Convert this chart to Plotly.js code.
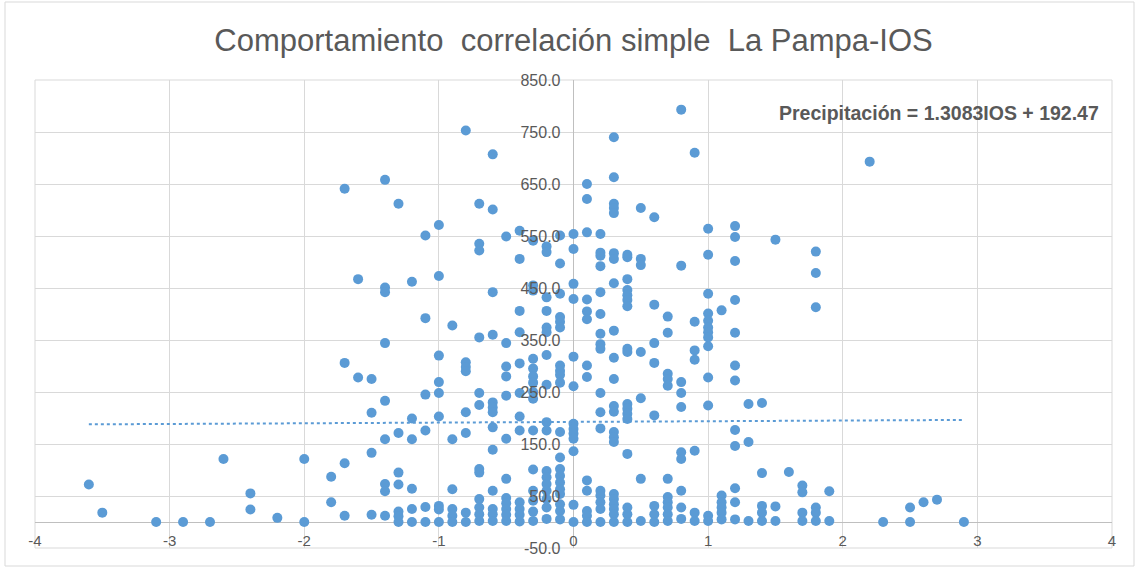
<!DOCTYPE html>
<html>
<head>
<meta charset="utf-8">
<script src="https://cdn.plot.ly/plotly-3.0.1.min.js"></script>
<style>
  html, body { margin: 0; padding: 0; background: #ffffff; }
  #chart { width: 1137px; height: 569px; }
</style>
</head>
<body>
<div id="chart"></div>
<script>
// ---- Data ----
const chartTitle = "Comportamiento  correlación simple  La Pampa-IOS";
const equationText = "Precipitación = 1.3083IOS + 192.47";
const trendSlope = 1.3083;
const trendIntercept = 192.47;

// IOS value of each column of points
const iosColumns = [
  -3.6, -3.5, -3.1, -2.9, -2.7, -2.6, -2.4, -2.2, -2.0, -1.8,
  -1.7, -1.6, -1.5, -1.4, -1.3, -1.2, -1.1, -1.0, -0.9, -0.8,
  -0.7, -0.6, -0.5, -0.4, -0.3, -0.2, -0.1, 0.0, 0.1, 0.2,
  0.3, 0.4, 0.5, 0.6, 0.7, 0.8, 0.9, 1.0, 1.1, 1.2,
  1.3, 1.4, 1.5, 1.6, 1.7, 1.8, 1.9, 2.2, 2.3, 2.5,
  2.6, 2.7, 2.9
];
// Precipitation values for the points in each column
const precipColumns = [
  [72], [18], [0], [0], [0], [121], [55, 24], [8], [121, 0], [87, 38],
  [641, 306, 113, 12],
  [467, 278],
  [275, 210, 133, 14],
  [658, 451, 442, 344, 233, 159, 73, 59, 12],
  [612, 171, 95, 72, 20, 11, 0],
  [462, 199, 159, 64, 25, 0],
  [551, 392, 245, 176, 29, 0],
  [571, 473, 320, 269, 248, 203, 31, 24, 0],
  [378, 159, 63, 25, 12, 0],
  [753, 307, 298, 290, 211, 171, 18, 0],
  [612, 535, 522, 355, 248, 225, 102, 95, 44, 28, 15, 2],
  [707, 601, 442, 360, 230, 220, 211, 182, 139, 60, 25, 15, 2],
  [549, 344, 299, 280, 243, 160, 83, 46, 36, 25, 14, 2],
  [560, 506, 406, 365, 305, 248, 203, 176, 38, 25, 14, 1],
  [541, 455, 445, 314, 295, 280, 268, 250, 237, 176, 101, 60, 41, 20, 2],
  [530, 519, 432, 406, 374, 365, 321, 264, 192, 176, 98, 86, 73, 60, 44, 28, 6],
  [551, 497, 439, 394, 385, 374, 301, 291, 283, 268, 173, 124, 102, 89, 76, 63, 54, 34, 21, 5],
  [554, 525, 458, 429, 318, 261, 189, 179, 170, 160, 136, 33, 0],
  [650, 621, 557, 428, 405, 390, 301, 279, 80, 60, 21, 12, 0],
  [554, 518, 512, 492, 442, 400, 362, 342, 333, 248, 211, 180, 60, 51, 38, 25, 0],
  [740, 663, 612, 604, 594, 517, 506, 459, 368, 316, 275, 223, 212, 173, 163, 154, 54, 44, 34, 25, 15, 0],
  [514, 509, 467, 446, 436, 427, 415, 333, 327, 227, 218, 208, 198, 131, 28, 15, 0],
  [604, 506, 494, 327, 238, 83, 2],
  [586, 418, 344, 306, 205, 31, 15, 0],
  [395, 364, 285, 275, 262, 83, 48, 38, 28, 15, 2],
  [793, 493, 269, 248, 221, 134, 121, 60, 28, 6],
  [710, 385, 330, 312, 137, 18, 2],
  [564, 514, 439, 401, 387, 374, 365, 355, 338, 278, 224, 12, 2],
  [407, 51, 38, 28, 18, 5],
  [569, 548, 502, 427, 364, 301, 272, 177, 146, 65, 38, 5],
  [227, 154, 2],
  [229, 94, 31, 18, 2],
  [543, 30, 2],
  [96],
  [70, 57, 18, 2],
  [520, 479, 413, 28, 18, 2],
  [59, 2],
  [693], [0], [28, 0], [38], [43], [0]
];

const xTickValues = [-4, -3, -2, -1, 0, 1, 2, 3, 4];
const yTickValues = [-50, 50, 150, 250, 350, 450, 550, 650, 750, 850];

// ---- Build traces ----
const ios = [];
const precip = [];
iosColumns.forEach((xv, i) => {
  precipColumns[i].forEach(yv => { ios.push(xv); precip.push(yv); });
});

const xMin = Math.min(...ios), xMax = Math.max(...ios);
const trendX = [xMin, xMax];
const trendY = trendX.map(v => trendSlope * v + trendIntercept);

const blue = '#5B9BD5';
const gray = '#595959';
const fontFam = '"Liberation Sans", Arial, sans-serif';

const traces = [
  {
    type: 'scatter', mode: 'markers', x: ios, y: precip,
    marker: { color: blue, size: 10, line: { width: 0 } },
    hoverinfo: 'x+y', showlegend: false
  },
  {
    type: 'scatter', mode: 'lines', x: trendX, y: trendY,
    line: { color: blue, width: 2, dash: 'dot' },
    hoverinfo: 'skip', showlegend: false
  }
];

const layout = {
  width: 1137, height: 569,
  margin: { l: 35, r: 25, t: 80, b: 21, pad: 0 },
  paper_bgcolor: '#ffffff', plot_bgcolor: '#ffffff',
  font: { family: fontFam, color: gray },
  showlegend: false,
  title: {
    text: chartTitle,
    font: { family: fontFam, size: 31, color: gray },
    x: 0.5, xref: 'paper', xanchor: 'center',
    y: 1 - 40 / 569, yref: 'container', yanchor: 'middle'
  },
  xaxis: {
    range: [-4, 4],
    tickmode: 'array', tickvals: xTickValues, ticktext: xTickValues.map(v => String(v)),
    showgrid: true, gridcolor: '#D9D9D9', gridwidth: 1,
    zeroline: true, zerolinecolor: '#BFBFBF', zerolinewidth: 1,
    showline: false, ticks: '',
    anchor: 'free', position: 50 / 900,
    ticklabelstandoff: 8,
    tickfont: { family: fontFam, size: 15, color: gray },
    fixedrange: true
  },
  yaxis: {
    range: [-50, 850],
    tickmode: 'array', tickvals: yTickValues, ticktext: yTickValues.map(v => v.toFixed(1)),
    showgrid: true, gridcolor: '#D9D9D9', gridwidth: 1,
    zeroline: true, zerolinecolor: '#BFBFBF', zerolinewidth: 1,
    showline: false, ticks: '',
    anchor: 'free', position: 0.5,
    ticklabelstandoff: 13,
    tickfont: { family: fontFam, size: 16, color: gray },
    fixedrange: true
  },
  annotations: [
    {
      text: '<b>' + equationText + '</b>',
      xref: 'paper', yref: 'paper', x: (939 - 35) / 1077, y: (548 - 113) / 468,
      xanchor: 'center', yanchor: 'middle', showarrow: false,
      font: { family: fontFam, size: 19.5, color: gray }
    }
  ],
  shapes: [
    {
      type: 'rect', xref: 'paper', yref: 'paper', layer: 'below',
      x0: 0, x1: 1, y0: 0, y1: 1,
      line: { color: '#D9D9D9', width: 1 }, fillcolor: 'rgba(0,0,0,0)'
    },
    {
      type: 'rect', xref: 'paper', yref: 'paper', layer: 'below',
      x0: (5 - 35) / 1077, x1: (1134 - 35) / 1077,
      y0: (548 - 566) / 468, y1: (548 - 2) / 468,
      line: { color: '#D9D9D9', width: 1 }, fillcolor: 'rgba(0,0,0,0)'
    }
  ]
};

Plotly.newPlot('chart', traces, layout, { displayModeBar: false, staticPlot: true });
</script>
</body>
</html>
